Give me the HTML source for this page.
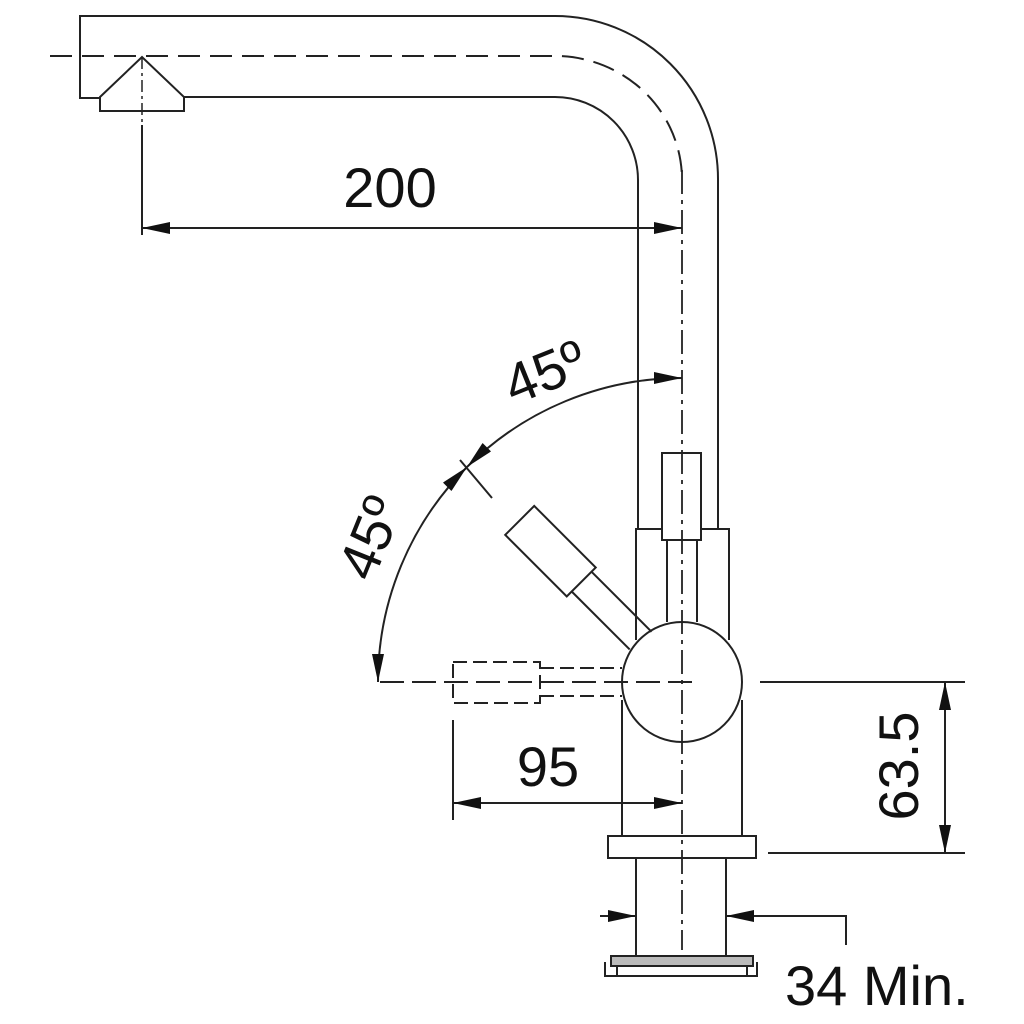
<!DOCTYPE html>
<html><head><meta charset="utf-8"><style>html,body{margin:0;padding:0;background:#fff}svg{display:block}text{font-family:"Liberation Sans",sans-serif;fill:#111}</style></head>
<body>
<svg width="1024" height="1024" viewBox="0 0 1024 1024" xmlns="http://www.w3.org/2000/svg">
<defs>
<marker id="a" viewBox="0 0 28 12" refX="28" refY="6" markerWidth="28" markerHeight="12" markerUnits="userSpaceOnUse" orient="auto-start-reverse"><path d="M0,0 L28,6 L0,12 z" fill="#111"/></marker>
</defs>
<g fill="none" stroke="#222" stroke-width="2">
<path d="M100,98 H80 V16 H555 A163,163 0 0 1 718,179 V530"/>
<path d="M184,97 H555 A83,83 0 0 1 638,180 V530"/>
<path d="M50,56 H555 A127,124 0 0 1 682,180" stroke-dasharray="22,10"/>
<path d="M682,170 V950" stroke-width="1.8" stroke-dasharray="24,6,4,6"/>
<path d="M100,97 L142,57 L184,97 V111 H100 Z"/>
<path d="M142,57 V125" stroke-dasharray="12,4,3,4" stroke-width="1.5"/>
<path d="M142,125 V235"/>
<path d="M142,228 H682" marker-start="url(#a)" marker-end="url(#a)"/>
<rect x="662" y="453" width="39" height="87"/>
<path d="M636,640 V529 H662 M701,529 H729 V640"/>
<path d="M667,540 V622 M697,540 V622"/>
<circle cx="682" cy="682" r="60"/>
<path d="M622,700 V835 M742,700 V835"/>
<g transform="rotate(45 682 682)">
<rect x="453" y="662" width="87" height="41"/>
<path d="M540,668 H625 M540,696 H622"/>
</g>
<g stroke-dasharray="14,6">
<rect x="453" y="662" width="87" height="41"/>
<path d="M540,668 H622 M540,696 H622"/>
</g>
<path d="M380,682 H700" stroke-dasharray="24,8"/>
<path d="M760,682 H965"/>
<path d="M378,682 A304,304 0 0 1 467,467" marker-start="url(#a)" marker-end="url(#a)"/>
<path d="M467,467 A304,304 0 0 1 682,378" marker-start="url(#a)" marker-end="url(#a)"/>
<path d="M460,460 L492,498"/>
<path d="M453,720 V820"/>
<path d="M453,803 H682" marker-start="url(#a)" marker-end="url(#a)"/>
<path d="M768,853 H965"/>
<path d="M945,682 V853" marker-start="url(#a)" marker-end="url(#a)"/>
<rect x="608" y="836" width="148" height="22"/>
<path d="M636,858 V956 M726,858 V956"/>
<path d="M600,916 H636" marker-end="url(#a)"/>
<path d="M846,945 V916 H726" marker-end="url(#a)"/>
<rect x="611" y="956" width="142" height="10" fill="#bbb"/>
<path d="M605,962 V976 H757 V962 M617,966 V976 M747,966 V976"/>
</g>
<text x="390" y="207" font-size="56" text-anchor="middle">200</text>
<text x="548" y="786" font-size="56" text-anchor="middle">95</text>
<text transform="translate(918,766) rotate(-90)" font-size="56" text-anchor="middle">63.5</text>
<text transform="translate(552,390) rotate(-22)" font-size="56" text-anchor="middle">45º</text>
<text transform="translate(388,545) rotate(-68)" font-size="56" text-anchor="middle">45º</text>
<text x="785" y="1005" font-size="56">34 Min.</text>
</svg>
</body></html>
